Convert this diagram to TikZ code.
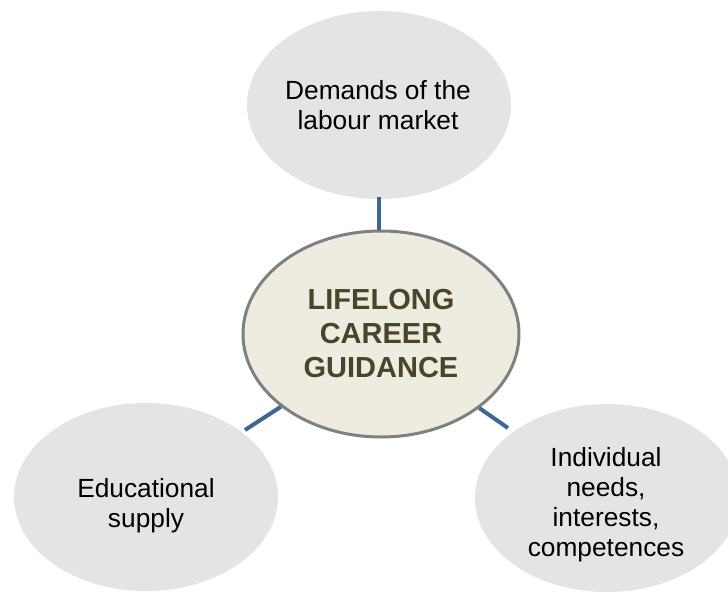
\documentclass[tikz,border=0pt]{standalone}
\usepackage{fontspec}
\setmainfont{Liberation Sans}
\usetikzlibrary{shapes.geometric}
\definecolor{outerfill}{HTML}{E4E4E4}
\definecolor{centerfill}{HTML}{EEECE1}
\definecolor{centerborder}{HTML}{808080}
\definecolor{centertext}{HTML}{4A452A}
\definecolor{linkblue}{HTML}{3E6597}
\tikzset{
  outer/.style={ellipse, fill=outerfill, draw=none, inner sep=0pt, minimum width=264pt, minimum height=188pt},
  outertext/.style={align=center, font=\fontsize{26.3}{30}\selectfont, text=black, inner sep=0pt},
  centre/.style={ellipse, fill=centerfill, draw=centerborder, line width=3pt, inner sep=0pt,
    minimum width=276pt, minimum height=206pt, align=center, text=centertext,
    font=\bfseries\fontsize{29}{34}\selectfont},
  link/.style={draw=linkblue, line width=4pt}
}
\begin{document}
\begin{tikzpicture}[x=1pt,y=1pt]
\useasboundingbox (0,0) rectangle (728,-597);
\node[outer] (top) at (379,-105) {};
\node[outertext] (toptext) at (378,-105) {Demands of the\\labour market};
\node[outer] (left) at (146,-497) {};
\node[outertext] (lefttext) at (146,-506) {Educational\\supply};
\node[outer] (right) at (607,-498) {};
\node[outertext] (righttext) at (606,-505) {Individual\\needs,\\interests,\\competences};
\node[centre] (c) at (381,-334) {LIFELONG\\CAREER\\GUIDANCE};
\coordinate (tend) at (379,-197);
\coordinate (lend) at (245,-430);
\coordinate (rend) at (508,-428);
\draw[link] (c.north -| tend) -- (tend);
\draw[link] (c.-144) -- (lend);
\draw[link] (c.-37) -- (rend);
\end{tikzpicture}
\end{document}
